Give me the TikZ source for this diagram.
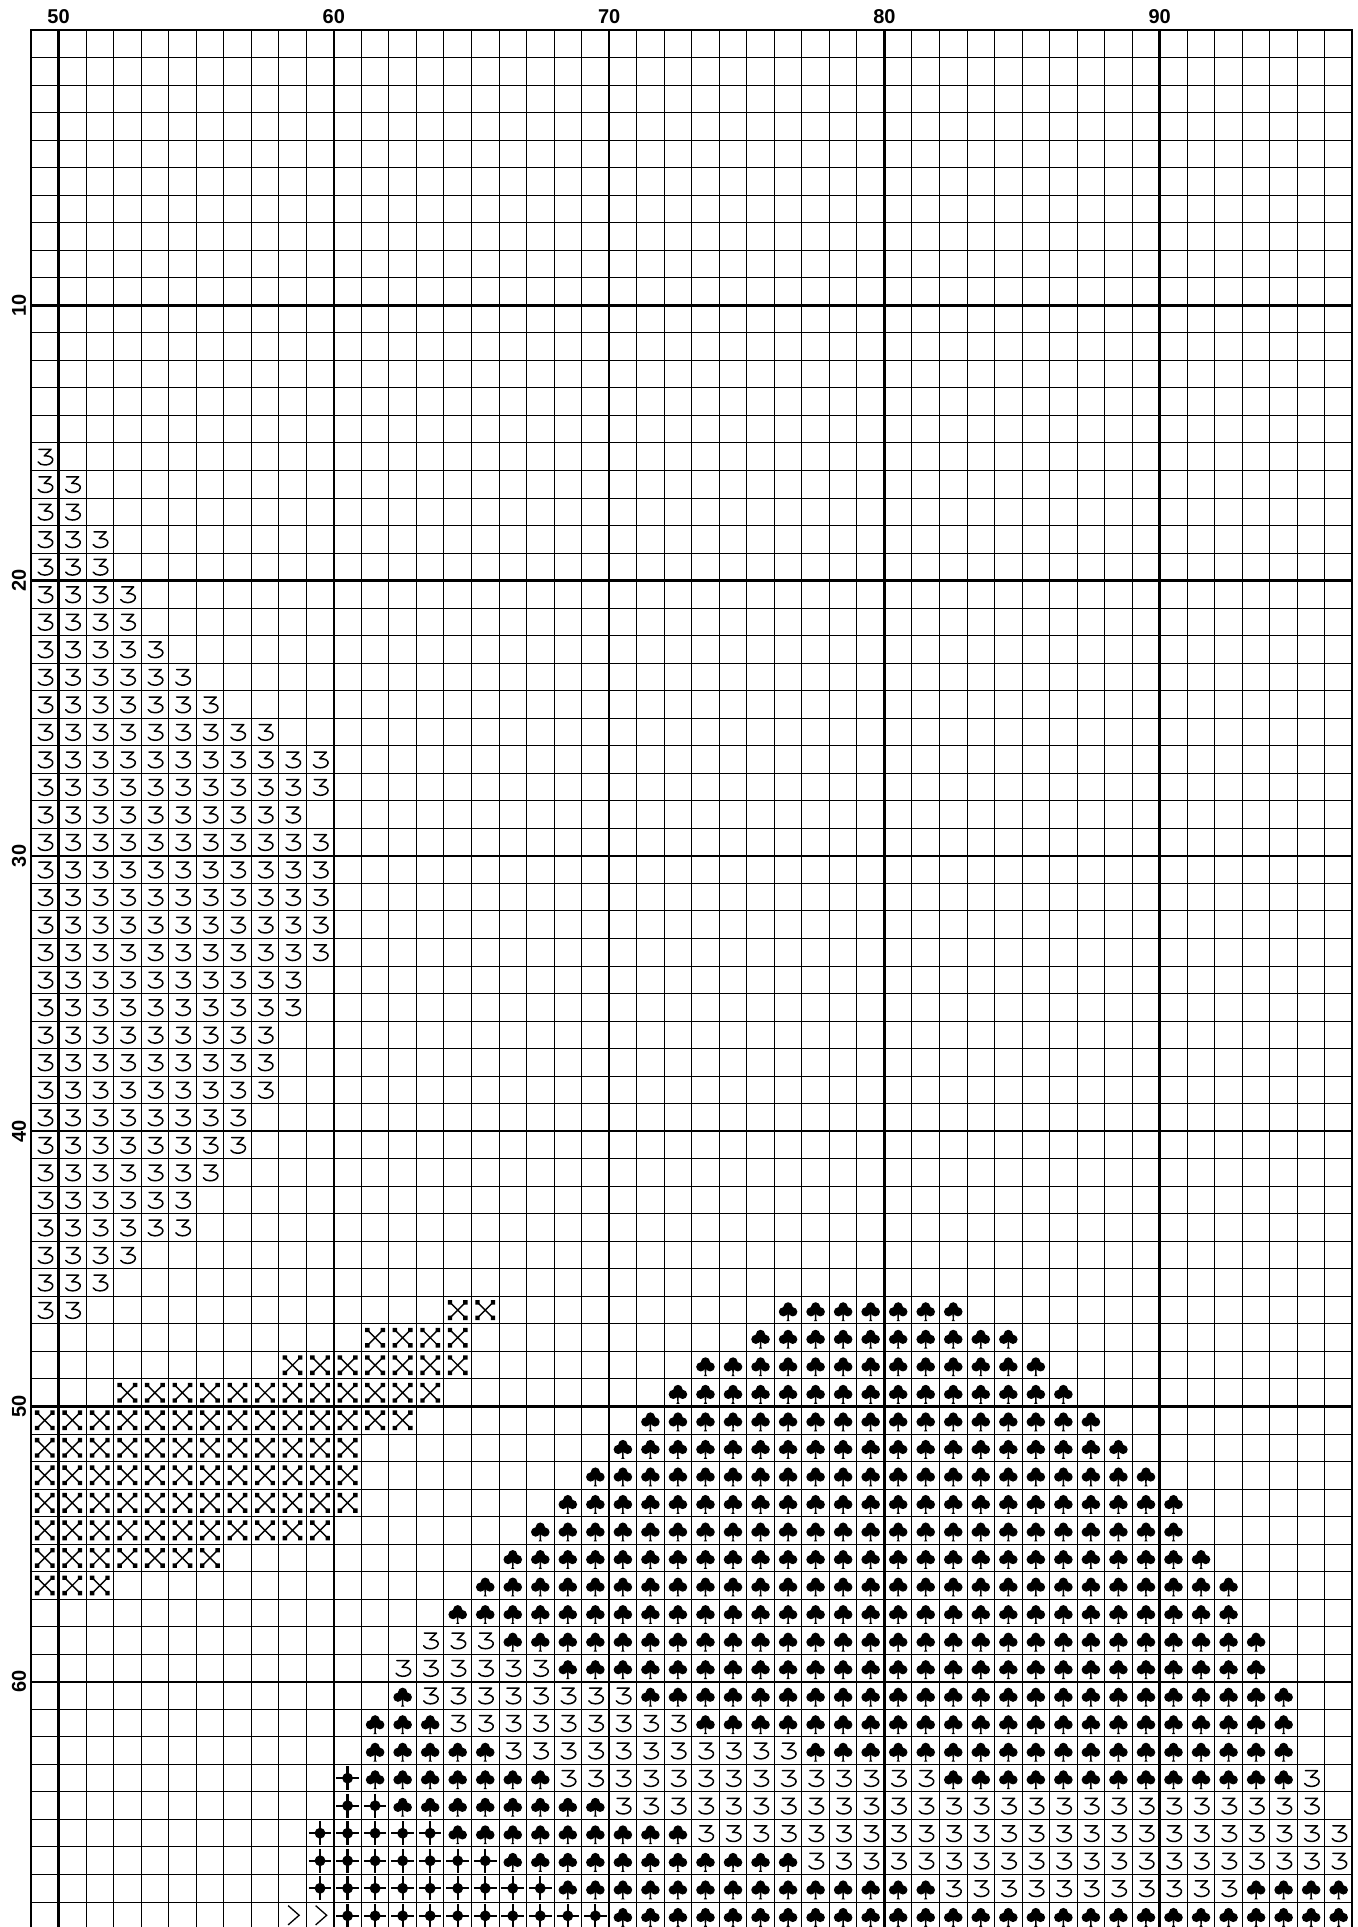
\documentclass[tikz,border=0pt]{standalone}
\usepackage{fontspec}
\setmainfont{Liberation Sans}
\tikzset{
  gridthin/.style={line width=1pt, black},
  gridthick/.style={line width=2.5pt, black},
  labfont/.style={font=\fontsize{20}{21}\selectfont\bfseries, inner sep=0pt, anchor=base},
  pics/three/.style={code={
    \draw[line width=1.5pt, line cap=round, line join=round]
      (-0.21,-0.27) -- (0.23,-0.27) -- (-0.02,-0.03)
      .. controls (0.2,-0.05) and (0.31,0.05) .. (0.29,0.13)
      .. controls (0.27,0.25) and (0.12,0.3) .. (0,0.3)
      .. controls (-0.1,0.3) and (-0.21,0.26) .. (-0.24,0.19);
  }},
  pics/xbox/.style={code={
    \draw[line width=1.4pt] (-0.28,-0.28) -- (0.28,0.28) (-0.28,0.28) -- (0.28,-0.28);
    \fill (-0.36,-0.36) rectangle (-0.2,-0.2)
          (0.2,-0.36) rectangle (0.36,-0.2)
          (-0.36,0.2) rectangle (-0.2,0.36)
          (0.2,0.2) rectangle (0.36,0.36);
  }},
  pics/club/.style={code={
    \fill (0,-0.12) circle (0.168) (-0.17,0.06) circle (0.168)
          (0.17,0.06) circle (0.168) (0,0.02) circle (0.14);
    \fill (-0.03,0.12) -- (0.03,0.12) -- (0.025,0.34) -- (0.06,0.4) -- (-0.06,0.4) -- (-0.025,0.34) -- cycle;
  }},
  pics/dplus/.style={code={
    \draw[line width=2.2pt] (-0.41,0) -- (0.41,0) (0,-0.43) -- (0,0.43);
    \fill (0,-0.2) .. controls (0.12,-0.18) and (0.18,-0.12) .. (0.2,0)
                    .. controls (0.18,0.12) and (0.12,0.18) .. (0,0.2)
                    .. controls (-0.12,0.18) and (-0.18,0.12) .. (-0.2,0)
                    .. controls (-0.18,-0.12) and (-0.12,-0.18) .. (0,-0.2) -- cycle;
  }},
  pics/chev/.style={code={
    \draw[line width=1.3pt, line join=miter] (-0.16,-0.37) -- (0.24,-0.02) -- (-0.16,0.33);
  }},
}
\begin{document}
\begin{tikzpicture}[x=27.53pt, y=-27.53pt]
\useasboundingbox[fill=white] (-1.126,-1.0897) rectangle (48.202,68.907);
\clip (-1.126,-1.0897) rectangle (48.202,68.907);
% grid
\draw[gridthin] foreach \i in {0,...,48} {(\i,0) -- (\i,69.5)};
\draw[gridthin] foreach \j in {0,...,69} {(0,\j) -- (48,\j)};
\draw[gridthick] foreach \i in {1,11,21,31,41} {(\i,0) -- (\i,69.5)};
\draw[gridthick] foreach \j in {10,20,30,40,50,60} {(0,\j) -- (48,\j)};
\draw[line width=2pt] (0,69.5) -- (0,0) -- (48,0) -- (48,69.5);
% labels
\foreach \i/\t in {1/50,11/60,21/70,31/80,41/90}
  \node[labfont] (col\t) at (\i,-0.243) {\t};
\foreach \j in {10,20,30,40,50,60}
  \node[labfont, rotate=90] (row\j) at (-0.19,\j) {\j};
% symbols
\foreach \r/\a/\b in {15/0/0,16/0/1,17/0/1,18/0/2,19/0/2,20/0/3,21/0/3,22/0/4,23/0/5,24/0/6,
  25/0/8,26/0/10,27/0/10,28/0/9,29/0/10,30/0/10,31/0/10,32/0/10,33/0/10,34/0/9,35/0/9,
  36/0/8,37/0/8,38/0/8,39/0/7,40/0/7,41/0/6,42/0/5,43/0/5,44/0/3,45/0/2,46/0/1,
  58/14/16,59/13/18,60/14/21,61/15/23,62/17/27,63/19/32,63/46/46,64/21/46,65/24/47,
  66/28/47,67/33/43}
  \foreach \c in {\a,...,\b} \pic at (\c+0.5,\r+0.5) {three};
\foreach \r/\a/\b in {46/15/16,47/12/15,48/9/15,49/3/14,50/0/13,51/0/11,52/0/11,53/0/11,
  54/0/10,55/0/6,56/0/2}
  \foreach \c in {\a,...,\b} \pic at (\c+0.5,\r+0.5) {xbox};
\foreach \r/\a/\b in {46/27/33,47/26/35,48/24/36,49/23/37,50/22/38,51/21/39,52/20/40,
  53/19/41,54/18/41,55/17/42,56/16/43,57/15/43,58/17/44,59/19/44,60/13/13,60/22/45,
  61/12/14,61/24/45,62/12/16,62/28/45,63/12/18,63/33/45,64/13/20,65/15/23,66/17/27,
  67/19/32,67/44/47,68/21/47}
  \foreach \c in {\a,...,\b} \pic at (\c+0.5,\r+0.5) {club};
\foreach \r/\a/\b in {63/11/11,64/11/12,65/10/14,66/10/16,67/10/18,68/11/20}
  \foreach \c in {\a,...,\b} \pic at (\c+0.5,\r+0.5) {dplus};
\foreach \c in {9,10} \pic at (\c+0.5,68.5) {chev};
\end{tikzpicture}
\end{document}
